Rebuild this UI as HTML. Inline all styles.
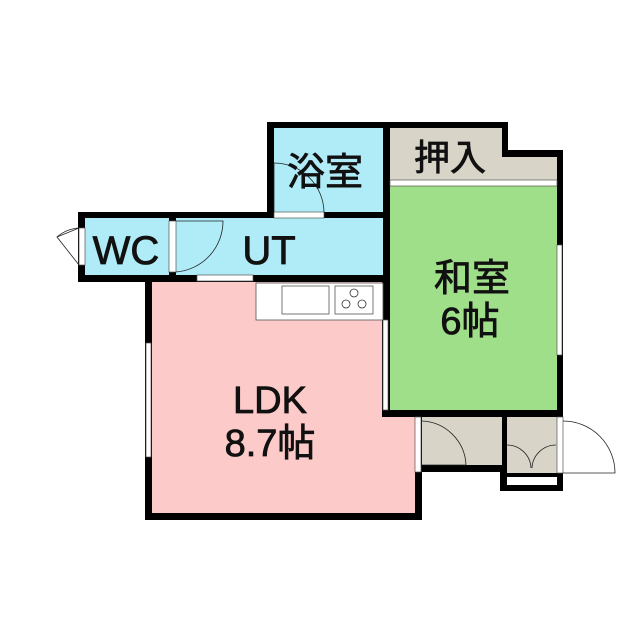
<!DOCTYPE html>
<html><head><meta charset="utf-8"><style>
html,body{margin:0;padding:0;background:#fff;width:640px;height:640px;overflow:hidden}
text{font-family:"Liberation Sans","Noto Sans CJK JP",sans-serif;fill:#111;stroke:#111;stroke-width:0.8}
</style></head><body>
<svg width="640" height="640" viewBox="0 0 640 640" xmlns="http://www.w3.org/2000/svg">
<g fill="#000">
<rect x="267" y="122" width="123" height="96"/>
<rect x="78" y="212" width="312" height="70"/>
<rect x="145" y="275" width="245" height="245"/>
<rect x="383" y="122" width="125" height="60"/>
<rect x="383" y="150" width="180" height="267"/>
<rect x="383" y="410" width="39" height="110"/>
<rect x="415" y="410" width="148" height="62"/>
<rect x="500" y="465" width="63" height="26"/>
</g>
<rect x="274" y="128" width="109" height="84" fill="#b0ecf8"/>
<rect x="85" y="218" width="84" height="57" fill="#b0ecf8"/>
<rect x="176" y="218" width="207" height="57" fill="#b0ecf8"/>
<rect x="390" y="128" width="112" height="52" fill="#d8d5c8"/>
<rect x="390" y="157" width="167" height="23" fill="#d8d5c8"/>
<rect x="390" y="186" width="167" height="224" fill="#a0df8a"/>
<rect x="152" y="282" width="230" height="231" fill="#fdcaca"/>
<rect x="152" y="417" width="263" height="96" fill="#fdcaca"/>
<rect x="422" y="417" width="80" height="48" fill="#d8d5c8"/>
<rect x="507" y="417" width="50" height="56" fill="#d8d5c8"/>
<rect x="507" y="477" width="50" height="8" fill="#fff"/>
<g fill="#fff" stroke="#555" stroke-width="0.7">
<rect x="274" y="212" width="50" height="6"/>
<rect x="197" y="275" width="56" height="6"/>
<rect x="169" y="221" width="7" height="51"/>
<rect x="79" y="228" width="6" height="37"/>
<rect x="390" y="180" width="167" height="6"/>
<rect x="557" y="245" width="5" height="110"/>
<rect x="146" y="343" width="5" height="114"/>
<rect x="383" y="320" width="5" height="90"/>
<rect x="415" y="417" width="6" height="55"/>
<rect x="557" y="417" width="6" height="56"/>
</g>
<g fill="none" stroke="#222" stroke-width="0.8">
<path d="M274 163 A50 50 0 0 1 324 212"/>
<line x1="274" y1="163" x2="274" y2="212"/>
<path d="M176 272 A51 51 0 0 0 223 221 L176 221"/>
<path d="M79 228 L57 237 L79 265"/>
<path d="M57 237 A37 37 0 0 1 79 228"/>
<path d="M422 421 A46 46 0 0 1 466 465 L422 465"/>
<path d="M507 445 A24 24 0 0 1 531 468"/>
<path d="M556 445 A24 24 0 0 0 532 468"/>
<path d="M563 421 A52 52 0 0 1 615 473 L563 473"/>
</g>
<rect x="256" y="283" width="127" height="37" fill="#fff" stroke="#555" stroke-width="0.8"/>
<rect x="282" y="286" width="47" height="28" fill="#fff" stroke="#555" stroke-width="0.8"/>
<rect x="335" y="286" width="38" height="28" fill="#fff" stroke="#555" stroke-width="0.8"/>
<g fill="none" stroke="#333" stroke-width="0.8">
<circle cx="354" cy="293" r="4"/><circle cx="346" cy="304" r="4"/><circle cx="362" cy="304" r="4"/>
</g>
<text x="325" y="185" font-size="38" text-anchor="middle">浴室</text>
<text x="126" y="264" font-size="40" text-anchor="middle">WC</text>
<text x="269" y="264" font-size="40" text-anchor="middle">UT</text>
<text x="450" y="170" font-size="36" text-anchor="middle">押入</text>
<text x="472" y="291" font-size="38" text-anchor="middle">和室</text>
<text x="470" y="334" font-size="38" text-anchor="middle">6帖</text>
<text x="270" y="413" font-size="38" text-anchor="middle">LDK</text>
<text x="270" y="456" font-size="38" text-anchor="middle">8.7帖</text>
</svg>
</body></html>
